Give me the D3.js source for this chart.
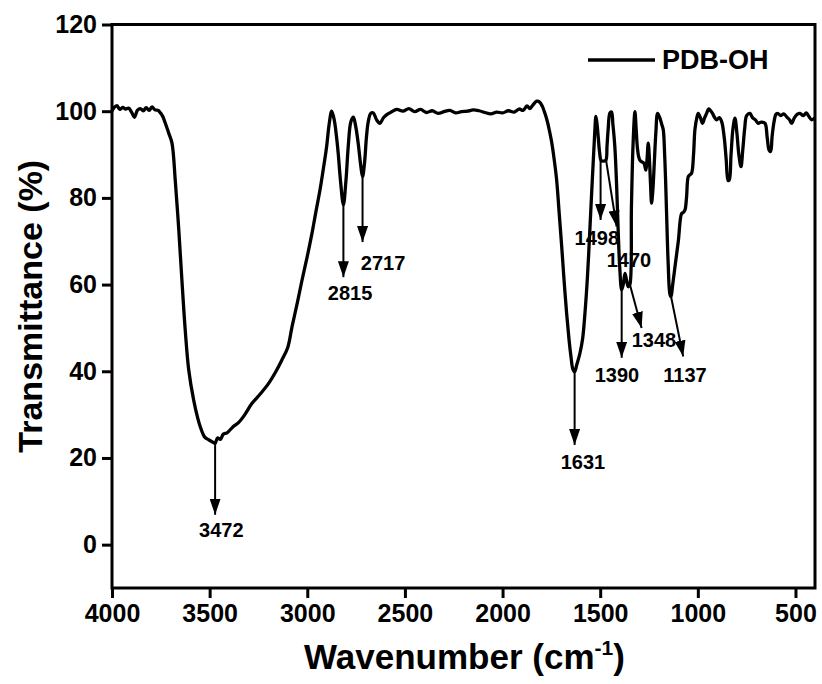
<!DOCTYPE html>
<html>
<head>
<meta charset="utf-8">
<script src="https://cdn.jsdelivr.net/npm/d3@7"></script>
<style>
  body { margin: 0; background: #fff; }
  svg text { font-family: "Liberation Sans", Arial, sans-serif; font-weight: bold; fill: #000; }
</style>
</head>
<body>
<script>
// FTIR spectrum
const wavenumbers = [4000,3990,3975,3960,3945,3930,3915,3900,3885,3870,3855,3840,3825,3810,3795,3780,3765,3750,3740,3725,3710,3693,3676,3658,3642,3625,3607,3582,3560,3548,3525,3505,3490,3472,3460,3445,3430,3411,3380,3351,3320,3283,3240,3198,3160,3130,3100,3078,3050,3027,3000,2976,2955,2935,2915,2901,2888,2875,2862,2850,2841,2830,2815,2802,2790,2777,2764,2752,2739,2725,2717,2707,2697,2688,2675,2662,2645,2628,2610,2593,2570,2542,2510,2480,2450,2420,2390,2360,2330,2300,2270,2240,2210,2180,2150,2120,2090,2060,2030,2000,1970,1940,1915,1895,1875,1860,1845,1825,1810,1795,1783,1770,1760,1749,1736,1723,1710,1697,1685,1672,1660,1650,1640,1631,1620,1604,1590,1578,1565,1553,1545,1536,1528,1522,1516,1510,1503,1495,1483,1471,1465,1459,1450,1442,1435,1425,1416,1408,1400,1390,1382,1373,1365,1356,1348,1340,1332,1322,1316,1310,1303,1297,1287,1276,1266,1260,1254,1248,1242,1237,1230,1223,1215,1206,1195,1185,1177,1170,1165,1160,1152,1143,1137,1130,1117,1100,1083,1075,1066,1058,1049,1041,1032,1022,1015,1005,998,987,976,965,955,945,938,925,915,904,890,878,865,855,845,839,830,820,810,800,790,779,770,760,750,733,720,705,691,675,656,645,635,627,620,610,600,593,575,560,545,530,520,505,490,477,460,445,430,417,400];
const transmittance = [100,100.8,101.3,100.4,100.9,100.5,100.7,99.8,98.6,100.2,100.6,100.1,100.8,100.2,101,100.3,100.2,99.5,98.8,97,95,92.7,84,72.6,61,49.5,40.3,33.4,29,27.2,24.8,24.2,23.8,23.4,24.6,24.3,25.5,25.8,27.2,28.2,30,32.6,34.8,37.2,40,42.6,45.5,50.3,56,61,66.5,71.8,77,81.8,87.5,91.8,97,100,98,94,90,84,78.4,84,92,97.5,98.6,96.5,92.5,87,84.9,88,94,97.5,99.5,99.6,98,97.2,98.5,99.2,99.8,100.4,100,100.6,99.9,100.4,99.7,100.1,99.5,99.9,100.2,99.6,99.9,100,100.3,100.1,99.7,99.4,99.8,99.6,100.1,99.8,100.5,100.2,101.2,100.6,101.4,102.3,102.1,101,99.5,97.5,95.5,93,89,84.1,76.5,68.7,61,53.4,47.5,43.5,40.5,39.9,41.5,44.1,47.5,53.4,62,72.6,80,88,95,98.8,97,94,90.5,88.6,88.5,88.7,92,96,99.6,99.8,97,91.8,83,72.6,64,58.8,60,62.6,61,59.5,60,78,92,99.9,96,91.8,89.5,88.7,88.3,88,86.4,89,92.6,89,83,78.8,82,88,95,99.5,98.5,97,95.7,90,84,76.4,65,57.8,57.2,59.5,64.1,70,76.4,76.6,77.2,80,84.9,85.3,85.7,90,95.7,98.5,99.5,98.5,97.2,98.5,99.5,100.5,100.3,99.5,98.6,98,98.5,97.6,94,89,84,84.1,90,96,98.4,95,90,87.2,91,96,99,99.5,98.5,98,97.2,97.5,97.2,94,91,90.7,94,97.5,99.3,99.5,99,99.4,98.7,98,97.2,98.5,99.3,99.5,99,99.6,98.7,98,98.5];

// peak annotations: label, arrow start (wn, T), arrow end (wn, T), label position (wn, T)
const peakLabels = ["3472","2815","2717","1631","1498","1470","1390","1348","1137"];
const arrowStart = [[3472,23.4],[2815,78.4],[2717,84.9],[1631,39.9],[1498,88.6],[1470,88.7],[1390,58.8],[1348,60],[1137,57.2]];
const arrowEnd = [[3472,6.9],[2815,61.7],[2717,69.8],[1631,23],[1498,74.9],[1416,73.4],[1390,43.1],[1288,50],[1075,43.4]];
const labelPos = [[3440,1.8],[2781,56.4],[2612,63.4],[1588,17.4],[1517,69.1],[1353,64.1],[1414,37.5],[1225,45.6],[1066,37.5]];

const xTicks = [4000,3500,3000,2500,2000,1500,1000,500];
const yTicks = [0,20,40,60,80,100,120];
const seriesName = "PDB-OH";

const W = 822, H = 684;
const margin = {top: 24.5, right: 7, bottom: 96, left: 112};

const svg = d3.select("body").append("svg")
  .attr("width", W)
  .attr("height", H);

const x = d3.scaleLinear().domain([4000, 400]).range([margin.left, W - margin.right]);
const y = d3.scaleLinear().domain([-10, 120]).range([H - margin.bottom, margin.top]);

svg.append("defs").append("marker")
  .attr("id", "head")
  .attr("markerUnits", "userSpaceOnUse")
  .attr("viewBox", "0 0 16 11")
  .attr("refX", 16).attr("refY", 5.5)
  .attr("markerWidth", 16).attr("markerHeight", 11)
  .attr("orient", "auto")
  .append("path").attr("d", "M0,0 L16,5.5 L0,11 Z").attr("fill", "#000");

// spectrum
const line = d3.line()
  .x((d, i) => x(wavenumbers[i]))
  .y(d => y(d))
  .curve(d3.curveCatmullRom.alpha(0.5));

svg.append("path")
  .datum(transmittance)
  .attr("d", line)
  .attr("fill", "none")
  .attr("stroke", "#000")
  .attr("stroke-width", 3.3)
  .attr("stroke-linejoin", "round");

// axes
const xAxis = d3.axisBottom(x).tickValues(xTicks).tickFormat(d3.format("d")).tickSize(10).tickSizeOuter(0).tickPadding(6);
const yAxis = d3.axisLeft(y).tickValues(yTicks).tickFormat(d3.format("d")).tickSize(10).tickSizeOuter(0).tickPadding(5);

const gx = svg.append("g").attr("transform", "translate(0," + (H - margin.bottom) + ")").call(xAxis);
const gy = svg.append("g").attr("transform", "translate(" + margin.left + ",0)").call(yAxis);
[gx, gy].forEach(g => {
  g.select(".domain").remove();
  g.selectAll("line").attr("stroke", "#000").attr("stroke-width", 3);
  g.selectAll("text").style("font-size", "25px").style("font-family", "'Liberation Sans', Arial, sans-serif").style("font-weight", "bold");
});

// frame
svg.append("rect")
  .attr("x", margin.left).attr("y", margin.top)
  .attr("width", W - margin.right - margin.left)
  .attr("height", H - margin.bottom - margin.top)
  .attr("fill", "none").attr("stroke", "#000").attr("stroke-width", 3);

// arrows
peakLabels.forEach((lab, i) => {
  svg.append("line")
    .attr("x1", x(arrowStart[i][0])).attr("y1", y(arrowStart[i][1]))
    .attr("x2", x(arrowEnd[i][0])).attr("y2", y(arrowEnd[i][1]))
    .attr("stroke", "#000").attr("stroke-width", 2)
    .attr("marker-end", "url(#head)");
  svg.append("text")
    .attr("x", x(labelPos[i][0])).attr("y", y(labelPos[i][1]))
    .attr("text-anchor", "middle")
    .style("font-size", "20px")
    .text(lab);
});

// legend
svg.append("line")
  .attr("x1", 588).attr("x2", 655).attr("y1", 60).attr("y2", 60)
  .attr("stroke", "#000").attr("stroke-width", 3.3);
svg.append("text").attr("x", 662).attr("y", 69).style("font-size", "27px").text(seriesName);

// axis titles
svg.append("text")
  .attr("transform", "translate(42," + ((margin.top + H - margin.bottom) / 2) + ") rotate(-90)")
  .attr("text-anchor", "middle")
  .style("font-size", "34px")
  .text("Transmittance (%)");

const xt = svg.append("text")
  .attr("x", (margin.left + W - margin.right) / 2 + 1).attr("y", 669)
  .attr("text-anchor", "middle")
  .style("font-size", "35px");
xt.append("tspan").text("Wavenumber (cm");
xt.append("tspan").attr("dy", -14).style("font-size", "21px").text("-1");
xt.append("tspan").attr("dy", 14).text(")");
</script>
</body>
</html>
